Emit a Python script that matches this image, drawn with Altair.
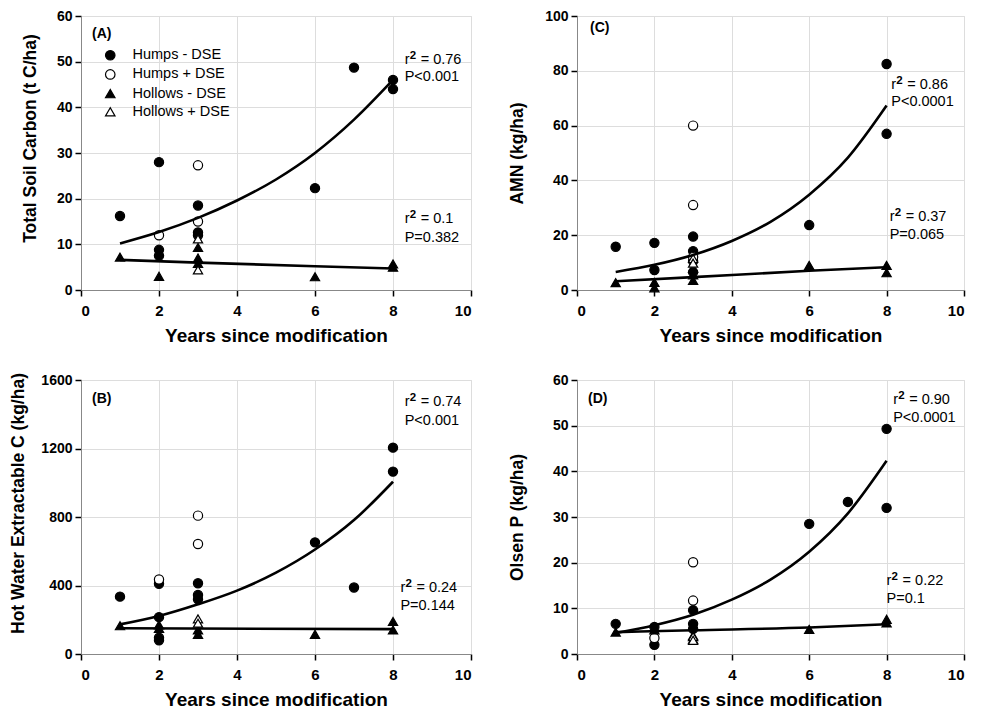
import altair as alt
import pandas as pd

FONT = "Liberation Sans"
SERIES = ["Humps - DSE", "Humps + DSE", "Hollows - DSE", "Hollows + DSE"]
SHAPES = ["circle", "circle", "triangle-up", "triangle-up"]
FILLS = ["black", "white", "black", "white"]
STROKES = ["black", "black", "black", "black"]
X_TICKS = [0, 2, 4, 6, 8, 10]
X_TITLE = "Years since modification"

# ---------------- Panel A: Total Soil Carbon ----------------
a_hm_x = [1, 2, 2, 2, 3, 3, 3, 6, 7, 8, 8]
a_hm_y = [16.2, 28.0, 8.8, 7.5, 18.5, 12.6, 12.0, 22.3, 48.7, 46.0, 44.0]
a_hp_x = [2, 3, 3]
a_hp_y = [12.0, 27.3, 15.0]
a_lm_x = [1, 2, 3, 3, 3, 6, 8, 8]
a_lm_y = [7.2, 3.0, 9.3, 7.0, 5.8, 2.9, 5.7, 5.0]
a_lp_x = [3, 3]
a_lp_y = [11.2, 4.4]
a_fit_h_x = [1, 2, 3, 4, 5, 6, 7, 8]
a_fit_h_y = [10.2, 12.7, 15.8, 19.6, 24.2, 30.0, 37.3, 46.0]
a_fit_l_x = [1, 3, 6, 8]
a_fit_l_y = [6.6, 6.0, 5.2, 4.7]

# ---------------- Panel B: Hot Water Extractable C ----------------
b_hm_x = [1, 2, 2, 2, 2, 3, 3, 3, 6, 7, 8, 8]
b_hm_y = [335, 410, 215, 95, 80, 413, 345, 320, 652, 388, 1205, 1065]
b_hp_x = [2, 3, 3]
b_hp_y = [435, 808, 642]
b_lm_x = [1, 2, 2, 3, 3, 6, 8, 8]
b_lm_y = [165, 170, 150, 115, 140, 115, 190, 140]
b_lp_x = [3, 3]
b_lp_y = [205, 180]
b_fit_h_x = [1, 2, 3, 4, 5, 6, 7, 8]
b_fit_h_y = [173, 222, 290, 370, 475, 610, 782, 1006]
b_fit_l_x = [1, 8]
b_fit_l_y = [150, 145]

# ---------------- Panel C: AMN ----------------
c_hm_x = [1, 2, 2, 3, 3, 3, 3, 6, 8, 8]
c_hm_y = [15.8, 17.2, 7.3, 19.5, 14.2, 10.5, 6.5, 23.7, 82.5, 57.0]
c_hp_x = [3, 3, 3]
c_hp_y = [60.0, 31.0, 12.0]
c_lm_x = [1, 2, 2, 3, 3, 3, 6, 8, 8]
c_lm_y = [2.7, 2.8, 0.8, 3.5, 5.5, 8.0, 9.0, 9.0, 6.3]
c_lp_x = [3, 3]
c_lp_y = [11.5, 9.8]
c_fit_h_x = [1, 2, 3, 4, 5, 6, 7, 8]
c_fit_h_y = [6.6, 9.2, 12.8, 17.9, 24.9, 34.8, 48.3, 67.3]
c_fit_l_x = [1, 3, 6, 8]
c_fit_l_y = [3.2, 4.7, 7.0, 8.3]

# ---------------- Panel D: Olsen P ----------------
d_hm_x = [1, 2, 2, 3, 3, 3, 6, 7, 8, 8]
d_hm_y = [6.6, 5.9, 2.0, 9.6, 6.6, 5.5, 28.5, 33.3, 49.3, 32.0]
d_hp_x = [2, 3, 3]
d_hp_y = [3.5, 20.1, 11.7]
d_lm_x = [1, 2, 3, 3, 6, 8, 8]
d_lm_y = [4.8, 5.3, 4.0, 3.2, 5.4, 7.6, 6.8]
d_lp_x = [3, 3]
d_lp_y = [3.8, 3.0]
d_fit_h_x = [1, 2, 3, 4, 5, 6, 7, 8]
d_fit_h_y = [4.6, 6.3, 8.6, 11.9, 16.3, 22.4, 30.8, 42.3]
d_fit_l_x = [1, 3, 6, 8]
d_fit_l_y = [4.8, 5.2, 5.8, 6.5]

# annotation texts
a_stats = [("0.76", "P<0.001"), ("0.1", "P=0.382")]
b_stats = [("0.74", "P<0.001"), ("0.24", "P=0.144")]
c_stats = [("0.86", "P<0.0001"), ("0.37", "P=0.065")]
d_stats = [("0.90", "P<0.0001"), ("0.22", "P=0.1")]


def points_df(groups):
    rows = []
    for name, (xs, ys) in zip(SERIES, groups):
        for x, y in zip(xs, ys):
            rows.append({"x": x, "y": y, "series": name})
    return pd.DataFrame(rows)


def fits_df(hx, hy, lx, ly):
    rows = [{"x": x, "y": y, "grp": "humps"} for x, y in zip(hx, hy)]
    rows += [{"x": x, "y": y, "grp": "hollows"} for x, y in zip(lx, ly)]
    return pd.DataFrame(rows)


def panel(letter, pts, fits, stats, anchors, ymax, yticks, ytitle, width,
          title_x, title_y, label_xy, show_legend):
    xs = alt.Scale(domain=[0, 10], nice=False, zero=False)
    ys = alt.Scale(domain=[0, ymax], nice=False)
    xenc = alt.X("x:Q", scale=xs, axis=alt.Axis(
        values=X_TICKS, title=X_TITLE, titleY=45, titleBaseline="middle",
        titleFontSize=19, titleFontWeight="bold", titleFont=FONT,
        labelFontSize=15, labelFontWeight="bold", labelFont=FONT, labelPadding=7,
        format="d", ticks=True, tickSize=6, tickWidth=1.5, tickColor="black"))
    yenc = alt.Y("y:Q", scale=ys, axis=alt.Axis(
        values=yticks, title=ytitle, titleX=title_x, titleY=title_y,
        titleAngle=270, titleAlign="center", titleBaseline="middle",
        titleFontSize=17.5, titleFontWeight="bold", titleFont=FONT,
        labelFontSize=14, labelFontWeight="bold", labelFont=FONT, labelPadding=3,
        format="d", ticks=True, tickSize=6, tickWidth=1.5, tickColor="black"))
    if show_legend:
        leg = alt.Legend(title=None, orient="none", legendX=22, legendY=32,
                         labelFontSize=14.5, labelFont=FONT, labelColor="black",
                         symbolStrokeColor="black", symbolStrokeWidth=1.2,
                         symbolSize=90, rowPadding=3.2, labelOffset=15, padding=0)
    else:
        leg = None
    pts_layer = alt.Chart(pts).mark_point(
        size=85, stroke="black", strokeWidth=1.2, opacity=1, fillOpacity=1
    ).encode(
        x=xenc, y=yenc,
        shape=alt.Shape("series:N", scale=alt.Scale(domain=SERIES, range=SHAPES), legend=leg),
        fill=alt.Fill("series:N", scale=alt.Scale(domain=SERIES, range=FILLS), legend=leg),
        stroke=alt.Stroke("series:N", scale=alt.Scale(domain=SERIES, range=STROKES), legend=leg),
    )
    line_layer = alt.Chart(fits).mark_line(
        color="black", strokeWidth=2.6, interpolate="monotone"
    ).encode(x=xenc, y=yenc, detail="grp:N")

    rows_r, rows_p = [], []
    for (val, ptxt), (ax, ay1, ay2) in zip(stats, anchors):
        rows_r.append({"x": ax, "y": ay1, "r": "r", "sup": "2", "rest": "= " + val})
        rows_p.append({"x": ax, "y": ay2, "txt": ptxt})
    rdf = pd.DataFrame(rows_r)
    pdf = pd.DataFrame(rows_p)
    tbase = dict(align="left", baseline="middle", font=FONT, fontSize=14.5, color="black")
    r_layer = alt.Chart(rdf).mark_text(**tbase).encode(x=xenc, y=yenc, text="r:N")
    sup_layer = alt.Chart(rdf).mark_text(
        align="left", baseline="middle", font=FONT, fontSize=11.5, fontWeight="bold",
        color="black", dx=5, dy=-4).encode(x=xenc, y=yenc, text="sup:N")
    rest_layer = alt.Chart(rdf).mark_text(**tbase, dx=16).encode(x=xenc, y=yenc, text="rest:N")
    p_layer = alt.Chart(pdf).mark_text(**tbase).encode(x=xenc, y=yenc, text="txt:N")
    lab_layer = alt.Chart(pd.DataFrame({"t": [letter]})).mark_text(
        align="left", baseline="middle", font=FONT, fontSize=14, fontWeight="bold",
        color="black").encode(x=alt.value(label_xy[0]), y=alt.value(label_xy[1]), text="t:N")

    return alt.layer(pts_layer, line_layer, r_layer, sup_layer, rest_layer,
                     p_layer, lab_layer).properties(width=width, height=274)


pA = panel("(A)",
           points_df([(a_hm_x, a_hm_y), (a_hp_x, a_hp_y), (a_lm_x, a_lm_y), (a_lp_x, a_lp_y)]),
           fits_df(a_fit_h_x, a_fit_h_y, a_fit_l_x, a_fit_l_y),
           a_stats, [(8.3, 50.4, 46.6), (8.3, 15.5, 11.4)],
           60, [0, 10, 20, 30, 40, 50, 60], "Total Soil Carbon (t C/ha)", 390,
           -51, 122, (11, 18), True)
pC = panel("(C)",
           points_df([(c_hm_x, c_hm_y), (c_hp_x, c_hp_y), (c_lm_x, c_lm_y), (c_lp_x, c_lp_y)]),
           fits_df(c_fit_h_x, c_fit_h_y, c_fit_l_x, c_fit_l_y),
           c_stats, [(8.12, 74.8, 68.6), (8.08, 26.6, 20.1)],
           100, [0, 20, 40, 60, 80, 100], "AMN (kg/ha)", 387,
           -60, 137, (13, 12), False)
pB = panel("(B)",
           points_df([(b_hm_x, b_hm_y), (b_hp_x, b_hp_y), (b_lm_x, b_lm_y), (b_lp_x, b_lp_y)]),
           fits_df(b_fit_h_x, b_fit_h_y, b_fit_l_x, b_fit_l_y),
           b_stats, [(8.3, 1472, 1361), (8.19, 384, 279)],
           1600, [0, 400, 800, 1200, 1600], "Hot Water Extractable C (kg/ha)", 390,
           -63, 123, (11, 19), False)
pD = panel("(D)",
           points_df([(d_hm_x, d_hm_y), (d_hp_x, d_hp_y), (d_lm_x, d_lm_y), (d_lp_x, d_lp_y)]),
           fits_df(d_fit_h_x, d_fit_h_y, d_fit_l_x, d_fit_l_y),
           d_stats, [(8.17, 55.6, 51.7), (8.0, 16.0, 12.0)],
           60, [0, 10, 20, 30, 40, 50, 60], "Olsen P (kg/ha)", 387,
           -60, 137, (11, 19), False)

chart = alt.concat(pA, pC, pB, pD, columns=2, spacing={"row": 90, "column": 106}, bounds="flush") \
    .resolve_scale(shape="independent", fill="independent", stroke="independent") \
    .resolve_legend(shape="independent", fill="independent", stroke="independent") \
    .properties(padding={"left": 0, "top": 0, "right": 5, "bottom": 5}) \
    .configure_view(stroke="black", strokeWidth=1.5) \
    .configure_axis(grid=False, domainColor="black", domainWidth=1.5,
                    labelColor="black", titleColor="black") \
    .configure(background="white")

chart.save("out.html", embed_options={"renderer": "svg", "actions": False})
